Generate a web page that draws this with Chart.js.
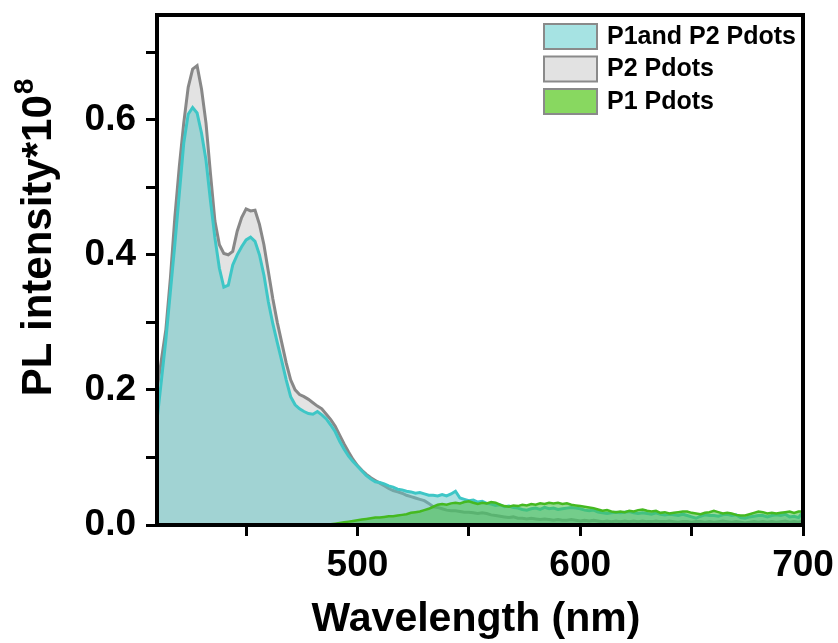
<!DOCTYPE html>
<html lang="en">
<head>
<meta charset="UTF-8">
<title>PL spectra of Pdots</title>
<style>
    html, body {
        margin: 0;
        padding: 0;
        background: #fff;
    }
    #wrap {
        width: 838px;
        height: 643px;
    }
</style>
<script src="https://cdn.jsdelivr.net/npm/chart.js"></script>
</head>
<body>
<div id="wrap"><canvas id="plChart" width="838" height="643"></canvas></div>
<script>
// wavelength grid (nm)
const wavelengths = [
    410, 412, 414, 416, 418, 420, 422, 424, 426, 428, 430, 432, 434, 436, 438, 440, 442, 444, 446, 448,
    450, 452, 454, 456, 458, 460, 462, 464, 466, 468, 470, 472, 474, 476, 478, 480, 482, 484, 486, 488,
    490, 492, 494, 496, 498, 500, 502, 504, 506, 508, 510, 512, 514, 516, 518, 520, 522, 524, 526, 528,
    530, 532, 534, 536, 538, 540, 542, 544, 546, 548, 550, 552, 554, 556, 558, 560, 562, 564, 566, 568,
    570, 572, 574, 576, 578, 580, 582, 584, 586, 588, 590, 592, 594, 596, 598, 600, 602, 604, 606, 608,
    610, 612, 614, 616, 618, 620, 622, 624, 626, 628, 630, 632, 634, 636, 638, 640, 642, 644, 646, 648,
    650, 652, 654, 656, 658, 660, 662, 664, 666, 668, 670, 672, 674, 676, 678, 680, 682, 684, 686, 688,
    690, 692, 694, 696, 698, 700
];

// P2 Pdots
const p2Values = [
    0.200, 0.245, 0.290, 0.365, 0.455, 0.530, 0.595, 0.648, 0.675, 0.680, 0.645, 0.595, 0.520, 0.450, 0.415, 0.402, 0.400, 0.405, 0.435, 0.455,
    0.468, 0.465, 0.466, 0.445, 0.415, 0.375, 0.335, 0.300, 0.270, 0.240, 0.215, 0.200, 0.193, 0.190, 0.186, 0.181, 0.176, 0.172, 0.164, 0.156,
    0.146, 0.133, 0.120, 0.108, 0.097, 0.088, 0.081, 0.075, 0.070, 0.066, 0.062, 0.058, 0.054, 0.051, 0.049, 0.047, 0.044, 0.042, 0.040, 0.038,
    0.036, 0.032, 0.027, 0.026, 0.024, 0.022, 0.021, 0.021, 0.020, 0.019, 0.019, 0.018, 0.017, 0.018, 0.017, 0.015, 0.014, 0.013, 0.012, 0.011,
    0.012, 0.010, 0.010, 0.009, 0.010, 0.009, 0.008, 0.009, 0.008, 0.007, 0.008, 0.007, 0.007, 0.008, 0.007, 0.006, 0.007, 0.006, 0.007, 0.006,
    0.005, 0.006, 0.005, 0.006, 0.005, 0.006, 0.005, 0.006, 0.005, 0.006, 0.005, 0.005, 0.006, 0.005, 0.005, 0.006, 0.005, 0.004, 0.005, 0.005,
    0.004, 0.005, 0.005, 0.004, 0.005, 0.004, 0.005, 0.006, 0.005, 0.004, 0.005, 0.004, 0.003, 0.004, 0.005, 0.004, 0.005, 0.004, 0.005, 0.004,
    0.005, 0.006, 0.004, 0.005, 0.004, 0.006
];

// P1and P2 Pdots
const mixValues = [
    0.155, 0.215, 0.275, 0.345, 0.415, 0.490, 0.565, 0.608, 0.618, 0.610, 0.580, 0.540, 0.480, 0.425, 0.380, 0.352, 0.355, 0.385, 0.400, 0.412,
    0.422, 0.426, 0.420, 0.400, 0.370, 0.330, 0.298, 0.270, 0.243, 0.215, 0.190, 0.178, 0.172, 0.168, 0.165, 0.164, 0.168, 0.163, 0.157, 0.148,
    0.138, 0.124, 0.112, 0.102, 0.094, 0.087, 0.080, 0.073, 0.068, 0.064, 0.063, 0.061, 0.058, 0.056, 0.053, 0.052, 0.050, 0.049, 0.047, 0.048,
    0.046, 0.044, 0.044, 0.043, 0.045, 0.043, 0.046, 0.050, 0.040, 0.038, 0.036, 0.037, 0.034, 0.035, 0.032, 0.031, 0.029, 0.030, 0.027, 0.028,
    0.026, 0.025, 0.023, 0.022, 0.024, 0.025, 0.023, 0.026, 0.024, 0.025, 0.023, 0.024, 0.025, 0.026, 0.025, 0.024, 0.022, 0.021, 0.022, 0.019,
    0.018, 0.017, 0.018, 0.019, 0.018, 0.019, 0.020, 0.018, 0.017, 0.018, 0.017, 0.016, 0.018, 0.016, 0.015, 0.016, 0.015, 0.014, 0.016, 0.014,
    0.012, 0.010, 0.013, 0.015, 0.014, 0.014, 0.013, 0.015, 0.016, 0.014, 0.015, 0.011, 0.010, 0.012, 0.013, 0.014, 0.014, 0.012, 0.014, 0.015,
    0.014, 0.016, 0.012, 0.013, 0.011, 0.019
];

// P1 Pdots
const p1Values = [
    0.001, 0.001, 0.001, 0.001, 0.001, 0.001, 0.001, 0.001, 0.001, 0.001, 0.001, 0.001, 0.001, 0.001, 0.001, 0.001, 0.001, 0.001, 0.001, 0.001,
    0.001, 0.001, 0.001, 0.001, 0.001, 0.001, 0.001, 0.001, 0.001, 0.001, 0.001, 0.001, 0.001, 0.001, 0.001, 0.001, 0.001, 0.001, 0.001, 0.001,
    0.002, 0.003, 0.004, 0.005, 0.006, 0.007, 0.008, 0.009, 0.010, 0.011, 0.011, 0.012, 0.013, 0.013, 0.014, 0.015, 0.016, 0.018, 0.019, 0.020,
    0.022, 0.024, 0.027, 0.030, 0.031, 0.030, 0.032, 0.033, 0.032, 0.034, 0.035, 0.033, 0.031, 0.033, 0.032, 0.034, 0.033, 0.030, 0.028, 0.027,
    0.029, 0.028, 0.030, 0.029, 0.031, 0.030, 0.032, 0.031, 0.033, 0.032, 0.033, 0.031, 0.032, 0.030, 0.029, 0.028, 0.027, 0.026, 0.025, 0.023,
    0.021, 0.022, 0.020, 0.019, 0.020, 0.019, 0.021, 0.020, 0.022, 0.023, 0.021, 0.020, 0.021, 0.018, 0.019, 0.017, 0.018, 0.019, 0.020, 0.020,
    0.018, 0.017, 0.016, 0.018, 0.019, 0.021, 0.019, 0.017, 0.018, 0.017, 0.015, 0.014, 0.014, 0.016, 0.018, 0.020, 0.019, 0.017, 0.018, 0.017,
    0.018, 0.019, 0.020, 0.018, 0.020, 0.020
];

const seriesNames = ['P1and P2 Pdots', 'P2 Pdots', 'P1 Pdots'];

const xTicks = [450, 500, 550, 600, 650, 700];
const xTickLabels = ['', '500', '', '600', '', '700'];
const yTicks = [0, 0.1, 0.2, 0.3, 0.4, 0.5, 0.6, 0.7];
const yTickLabels = ['0.0', '', '0.2', '', '0.4', '', '0.6', ''];

const xTitle = 'Wavelength (nm)';
const yTitle = 'PL intensity*10';
const yTitleSup = '8';

function toPoints(values) {
    return wavelengths.map((w, i) => ({ x: w, y: values[i] }));
}

const FONT = "'Liberation Sans', Arial, sans-serif";

// box + titles + legend drawn on top of the plot
const framePlugin = {
    id: 'frame',
    afterDatasetsDraw(chart) {
        const ctx = chart.ctx;
        const a = chart.chartArea;
        ctx.save();
        ctx.strokeStyle = '#000';
        ctx.lineWidth = 4;
        ctx.strokeRect(a.left, a.top, a.right - a.left, a.bottom - a.top);
        ctx.restore();
    },
    afterDraw(chart) {
        const ctx = chart.ctx;
        const a = chart.chartArea;
        ctx.save();
        ctx.fillStyle = '#000';

        // x title
        ctx.font = 'bold 41px ' + FONT;
        ctx.textAlign = 'center';
        ctx.textBaseline = 'alphabetic';
        ctx.fillText(xTitle, (a.left + a.right) / 2 - 4, 631);

        // y title, rotated with superscript
        ctx.translate(51, 238);
        ctx.rotate(-Math.PI / 2);
        ctx.font = 'bold 42px ' + FONT;
        const mainW = ctx.measureText(yTitle).width;
        ctx.font = 'bold 28px ' + FONT;
        const supW = ctx.measureText(yTitleSup).width;
        const startX = -(mainW + supW) / 2;
        ctx.textAlign = 'left';
        ctx.font = 'bold 42px ' + FONT;
        ctx.fillText(yTitle, startX, 0);
        ctx.font = 'bold 28px ' + FONT;
        ctx.fillText(yTitleSup, startX + mainW + 1, -18);
        ctx.restore();

        // legend
        ctx.save();
        const order = [1, 2, 0];
        ctx.font = 'bold 25px ' + FONT;
        ctx.textAlign = 'left';
        ctx.textBaseline = 'middle';
        order.forEach((dsIndex, row) => {
            const ds = chart.data.datasets[dsIndex];
            const top = 24 + row * 32.5;
            ctx.fillStyle = ds.swatch;
            ctx.fillRect(544, top, 53, 25);
            ctx.strokeStyle = '#8a8a8a';
            ctx.lineWidth = 2;
            ctx.strokeRect(544, top, 53, 25);
            ctx.fillStyle = '#000';
            ctx.fillText(ds.label, 607, top + 13);
        });
        ctx.restore();
    }
};

const ctx = document.getElementById('plChart').getContext('2d');
new Chart(ctx, {
    type: 'line',
    data: {
        datasets: [
            {
                label: seriesNames[2],
                data: toPoints(p1Values),
                borderColor: '#45b920',
                backgroundColor: 'rgba(70, 190, 70, 0.55)',
                swatch: '#88d860',
                borderWidth: 2.5,
                fill: 'origin'
            },
            {
                label: seriesNames[0],
                data: toPoints(mixValues),
                borderColor: '#3ec6c6',
                backgroundColor: 'rgba(95, 195, 195, 0.5)',
                swatch: '#a6e3e3',
                borderWidth: 3,
                fill: 'origin'
            },
            {
                label: seriesNames[1],
                data: toPoints(p2Values),
                borderColor: '#888888',
                backgroundColor: '#e3e3e3',
                swatch: '#e2e2e2',
                borderWidth: 3,
                fill: 'origin'
            }
        ]
    },
    options: {
        responsive: false,
        animation: false,
        devicePixelRatio: 1,
        layout: {
            padding: { top: 15, right: 35, left: 0, bottom: 0 }
        },
        elements: {
            point: { radius: 0 },
            line: { tension: 0 }
        },
        plugins: {
            legend: { display: false },
            tooltip: { enabled: false }
        },
        scales: {
            x: {
                type: 'linear',
                min: 410,
                max: 700,
                afterFit(scale) {
                    scale.height = 118;
                    scale.paddingLeft = 0;
                    scale.paddingRight = 0;
                },
                afterBuildTicks(scale) {
                    scale.ticks = xTicks.map(v => ({ value: v }));
                },
                border: { display: false },
                grid: {
                    drawOnChartArea: false,
                    drawTicks: true,
                    tickLength: 11,
                    tickWidth: 3,
                    tickColor: '#000'
                },
                ticks: {
                    color: '#000',
                    padding: 8,
                    maxRotation: 0,
                    autoSkip: false,
                    font: { family: FONT, size: 37, weight: 'bold' },
                    callback: (value, index) => xTickLabels[index]
                }
            },
            y: {
                type: 'linear',
                min: 0,
                max: 0.755,
                afterFit(scale) {
                    scale.width = 157;
                    scale.paddingTop = 0;
                    scale.paddingBottom = 0;
                },
                afterBuildTicks(scale) {
                    scale.ticks = yTicks.map(v => ({ value: v }));
                },
                border: { display: false },
                grid: {
                    drawOnChartArea: false,
                    drawTicks: true,
                    tickLength: 11,
                    tickWidth: 3,
                    tickColor: '#000'
                },
                ticks: {
                    color: '#000',
                    padding: 10,
                    autoSkip: false,
                    font: { family: FONT, size: 37, weight: 'bold' },
                    callback: (value, index) => yTickLabels[index]
                }
            }
        }
    },
    plugins: [framePlugin]
});
</script>
</body>
</html>
